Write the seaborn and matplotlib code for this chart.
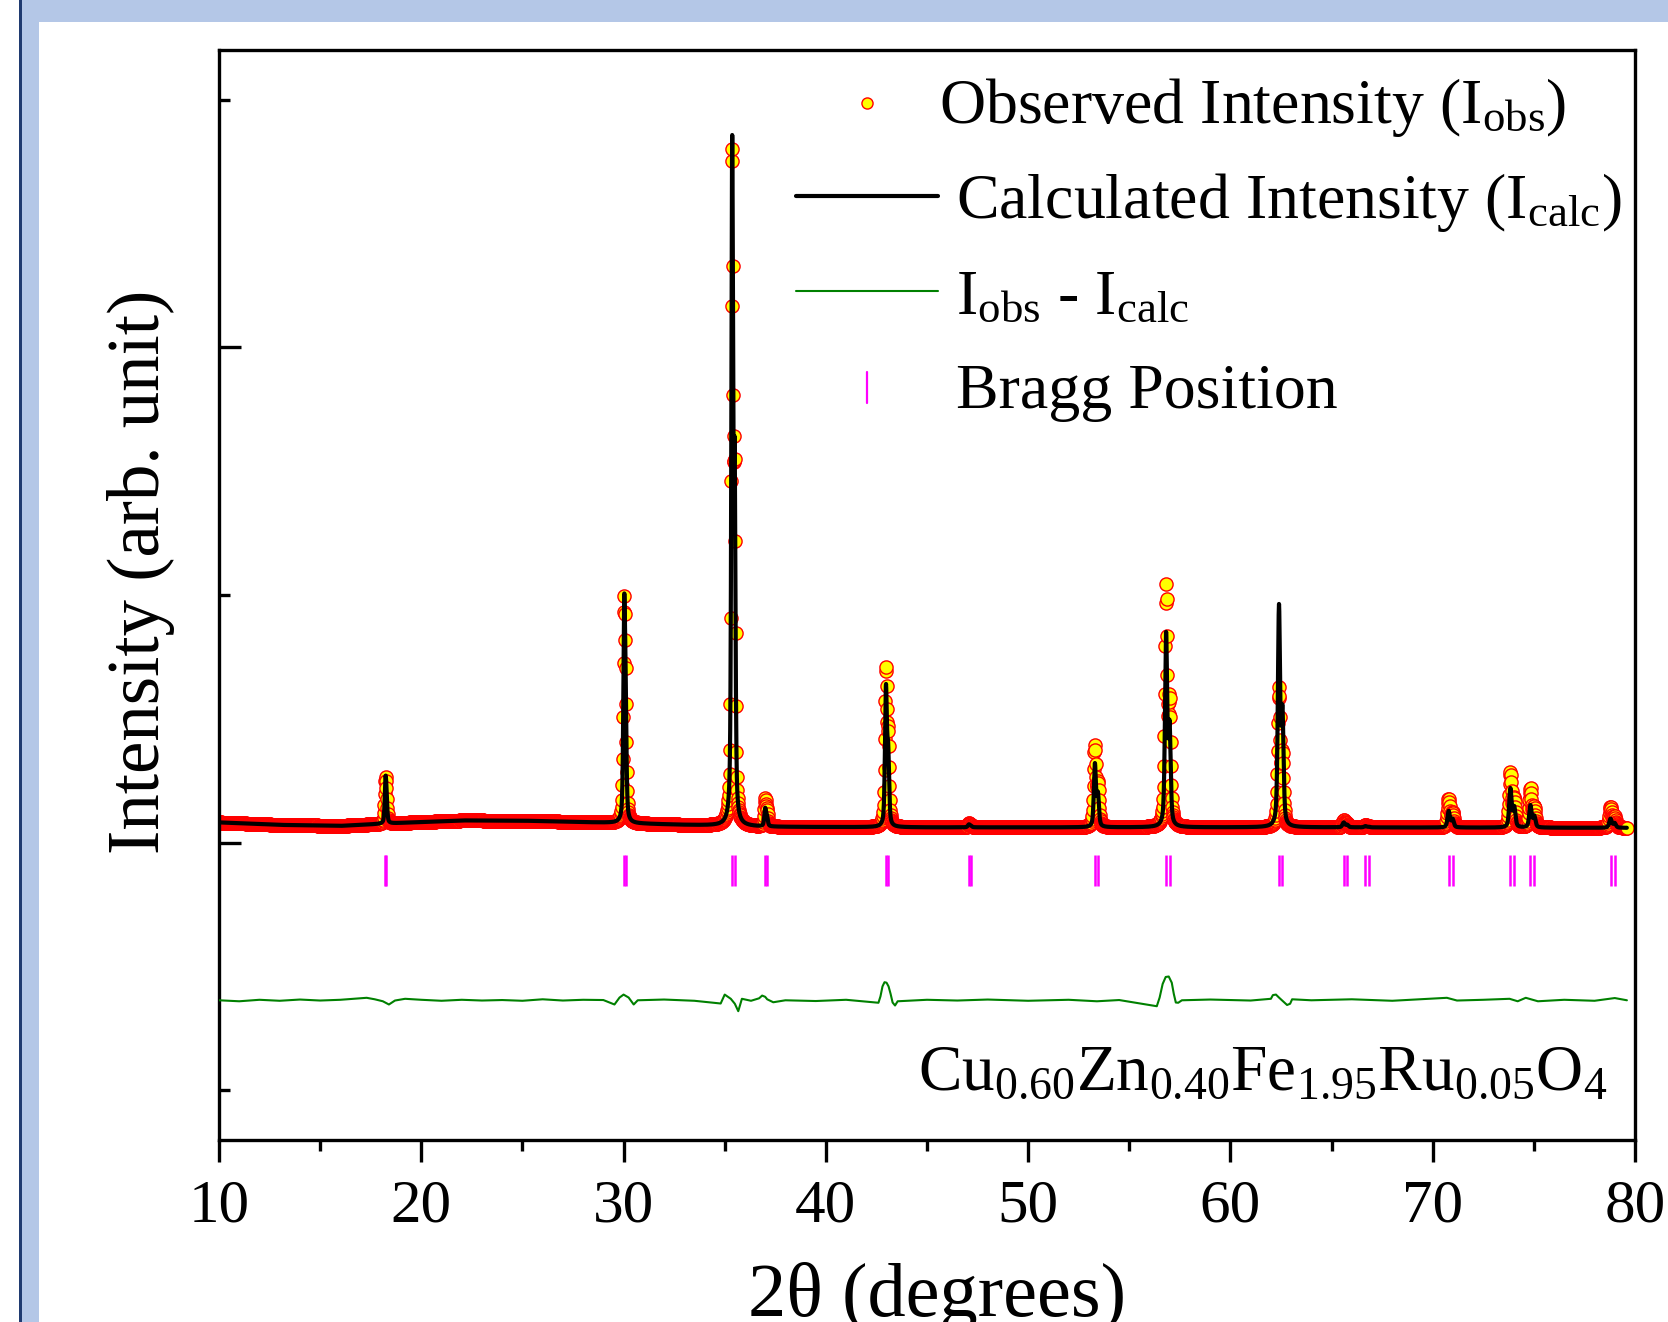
import numpy as np
import pandas as pd
import matplotlib
matplotlib.use("Agg")
import matplotlib.pyplot as plt
import seaborn as sns
from matplotlib.patches import Rectangle
from matplotlib.ticker import MultipleLocator

# reflections: K-alpha1 / K-alpha2 positions (deg 2theta)
peak_pos = [18.23, 30.03, 35.37, 37.00, 42.97, 47.07, 53.30, 56.82,
            62.40, 65.60, 66.67, 70.79, 73.84, 74.83, 78.79]
peak_pos2 = [18.28, 30.10, 35.49, 37.09, 43.08, 47.17, 53.45, 56.99,
             62.57, 65.77, 66.84, 70.98, 74.03, 75.02, 78.99]
peak_hwhm = [0.045, 0.05, 0.05, 0.05, 0.055, 0.06, 0.06, 0.065,
             0.065, 0.07, 0.07, 0.07, 0.07, 0.07, 0.075]
calc_height = [156, 798, 2678, 69, 542, 11, 250, 763,
               872, 19, 5, 65, 155, 88, 36]
obs_height = [152, 788, 2682, 105, 614, 15, 322, 950,
              548, 28, 10, 114, 219, 155, 83]

# background points
bg_x = [10, 13, 16, 19, 22, 25, 29, 33, 37, 45, 55, 65, 79.6]
bg_y = [82, 72, 68, 80, 90, 89, 81, 72, 64, 62, 62, 62, 60]

# difference curve Iobs - Icalc (shifted down)
diff_x = [10.0, 11.0, 12.0, 13.0, 14.0, 15.0, 16.0, 17.3, 17.7, 18.1, 18.4, 18.7,
          19.2, 20, 21, 22, 23, 24, 25, 26, 27, 28, 29.0, 29.55, 29.8, 30.0,
          30.25, 30.5, 30.7, 32, 33.5, 34.8, 35.0, 35.3, 35.5, 35.67, 35.85,
          36.3, 36.7, 36.85, 37.0, 37.1, 37.4, 38, 39.5, 41, 42.6, 42.7, 42.8,
          42.9, 43.0, 43.1, 43.2, 43.3, 43.42, 43.55, 45, 46.5, 48, 50, 52,
          53.4, 54.5, 56.36, 56.5, 56.65, 56.8, 56.95, 57.1, 57.2, 57.3, 57.42,
          57.6, 59, 61, 62.0, 62.1, 62.25, 62.4, 62.6, 62.8, 62.95, 63.05,
          64, 66, 68, 70.7, 71.2, 72.5, 73.8, 74.2, 74.6, 75.2, 76.5, 78,
          79.0, 79.6]
diff_y = [-636, -640, -634, -638, -633, -637, -634, -626, -632, -640, -653, -637,
          -630, -634, -638, -634, -637, -635, -638, -632, -637, -634, -635, -653,
          -625, -613, -625, -653, -636, -633, -638, -649, -613, -630, -650, -680,
          -630, -638, -628, -617, -622, -632, -644, -636, -639, -634, -646, -620,
          -580, -563, -565, -580, -610, -645, -657, -640, -634, -637, -633, -638,
          -634, -640, -635, -660, -625, -570, -542, -540, -565, -610, -645, -646,
          -636, -633, -637, -630, -615, -613, -625, -640, -655, -650, -632,
          -636, -632, -638, -626, -637, -634, -630, -640, -626, -640, -634, -638,
          -627, -636]

bragg_pos = peak_pos + peak_pos2

legend_labels = [
    r"Observed Intensity ($\mathrm{I_{obs}}$)",
    r"Calculated Intensity ($\mathrm{I_{calc}}$)",
    r"$\mathrm{I_{obs}}$ - $\mathrm{I_{calc}}$",
    "Bragg Position",
]


def profile(tt, heights):
    y = np.interp(tt, bg_x, bg_y)
    for p1, p2, w, h in zip(peak_pos, peak_pos2, peak_hwhm, heights):
        for pos, frac in ((p1, 1.0), (p2, 0.5)):
            d = (tt - pos) / w
            y += frac * h * (0.5 / (1 + d ** 2) + 0.5 * np.exp(-np.log(2) * d ** 2))
    return y


tt_calc = np.round(10.0 + 0.005 * np.arange(13920), 4)
tt_obs = np.round(10.04 + 0.02 * np.arange(3478), 3)
calc_df = pd.DataFrame({"tt": tt_calc, "I": profile(tt_calc, calc_height)})
obs_df = pd.DataFrame({"tt": tt_obs, "I": profile(tt_obs, obs_height)})
diff_df = pd.DataFrame({"tt": diff_x, "I": diff_y})

sns.set_theme(style="ticks", rc={"axes.edgecolor": "black", "xtick.color": "black",
                                 "ytick.color": "black", "text.color": "black",
                                 "axes.labelcolor": "black"})
plt.rcParams["font.family"] = ["Liberation Serif", "DejaVu Serif"]
plt.rcParams["mathtext.fontset"] = "custom"
plt.rcParams["mathtext.rm"] = "Liberation Serif"
plt.rcParams["mathtext.it"] = "Liberation Serif:italic"
plt.rcParams["mathtext.bf"] = "Liberation Serif:bold"

fig = plt.figure(figsize=(16.68, 13.22), dpi=100)
W, H = 1668, 1322
# slide-like blue frame
fig.add_artist(Rectangle((20 / W, 1 - 22 / H), 1, 22 / H, transform=fig.transFigure,
                         facecolor="#B4C7E7", edgecolor="none", zorder=0))
fig.add_artist(Rectangle((20 / W, 0), 19 / W, 1, transform=fig.transFigure,
                         facecolor="#B4C7E7", edgecolor="none", zorder=0))
fig.add_artist(Rectangle((19 / W, 0), 2.5 / W, 1, transform=fig.transFigure,
                         facecolor="#1F3A70", edgecolor="none", zorder=0))

ax = fig.add_axes([219 / W, 1 - 1140 / H, 1416 / W, 1090 / H])

sns.scatterplot(data=obs_df, x="tt", y="I", ax=ax, s=90, color="#FFFF00",
                edgecolor="#FF0000", linewidth=1.0, legend=False, zorder=2)
sns.lineplot(data=calc_df, x="tt", y="I", ax=ax, estimator=None, sort=False,
             color="black", lw=3, zorder=3)
sns.lineplot(data=diff_df, x="tt", y="I", ax=ax, estimator=None, sort=False,
             color="#008000", lw=1.5, zorder=3)
ax.vlines(bragg_pos, -175, -50, color="#FF00FF", lw=1.8, zorder=3)

ax.set_xlim(10, 80)
ax.set_ylim(-1200, 3200)
ax.xaxis.set_major_locator(MultipleLocator(10))
ax.xaxis.set_minor_locator(MultipleLocator(5))
ax.yaxis.set_major_locator(MultipleLocator(2000))
ax.yaxis.set_minor_locator(MultipleLocator(1000))

for s in ax.spines.values():
    s.set_linewidth(2.4)
    s.set_color("black")
ax.tick_params(axis="x", which="both", direction="out", top=False, width=2.4,
               labelsize=44, pad=12)
ax.tick_params(axis="x", which="major", length=16)
ax.tick_params(axis="x", which="minor", length=8)
ax.tick_params(axis="y", which="both", direction="in", right=False,
               labelleft=False, width=2.4)
ax.tick_params(axis="y", which="major", length=16)
ax.tick_params(axis="y", which="minor", length=8)

ax.set_xlabel("2θ (degrees)", fontsize=55)
ax.set_ylabel("Intensity (arb. unit)", fontsize=52.5)
ax.xaxis.set_label_coords(0.507, -0.112)
ax.yaxis.set_label_coords(-0.031, 0.521)

ax.text(0.981, 0.0459,
        r"Cu$_{\mathrm{0.60}}$Zn$_{\mathrm{0.40}}$Fe$_{\mathrm{1.95}}$Ru$_{\mathrm{0.05}}$O$_{\mathrm{4}}$",
        transform=ax.transAxes, ha="right", va="baseline", fontsize=47)


# legend laid out like the Origin one (pixel positions converted to axes fractions)
def axx(px):
    return (px - 219) / 1416


def axy(py):
    return (1140 - py) / 1090


leg_kw = dict(transform=ax.transAxes, clip_on=False, zorder=5)
ax.plot([axx(867)], [axy(103)], ls="none", marker="o", ms=8, mfc="#FFFF00",
        mec="#FF0000", mew=1, **leg_kw)
ax.plot([axx(796), axx(938)], [axy(196)] * 2, color="black", lw=3, **leg_kw)
ax.plot([axx(796), axx(938)], [axy(291)] * 2, color="#008000", lw=1.5, **leg_kw)
ax.plot([axx(867)] * 2, [axy(372), axy(403)], color="#FF00FF", lw=1.6, **leg_kw)

text_x = [939, 956, 956, 956]
text_base = [123, 218, 314, 408]
for lab, tx, ty in zip(legend_labels, text_x, text_base):
    ax.text(axx(tx), axy(ty), lab, transform=ax.transAxes, ha="left",
            va="baseline", fontsize=46)

fig.savefig("out.png", dpi=100)
